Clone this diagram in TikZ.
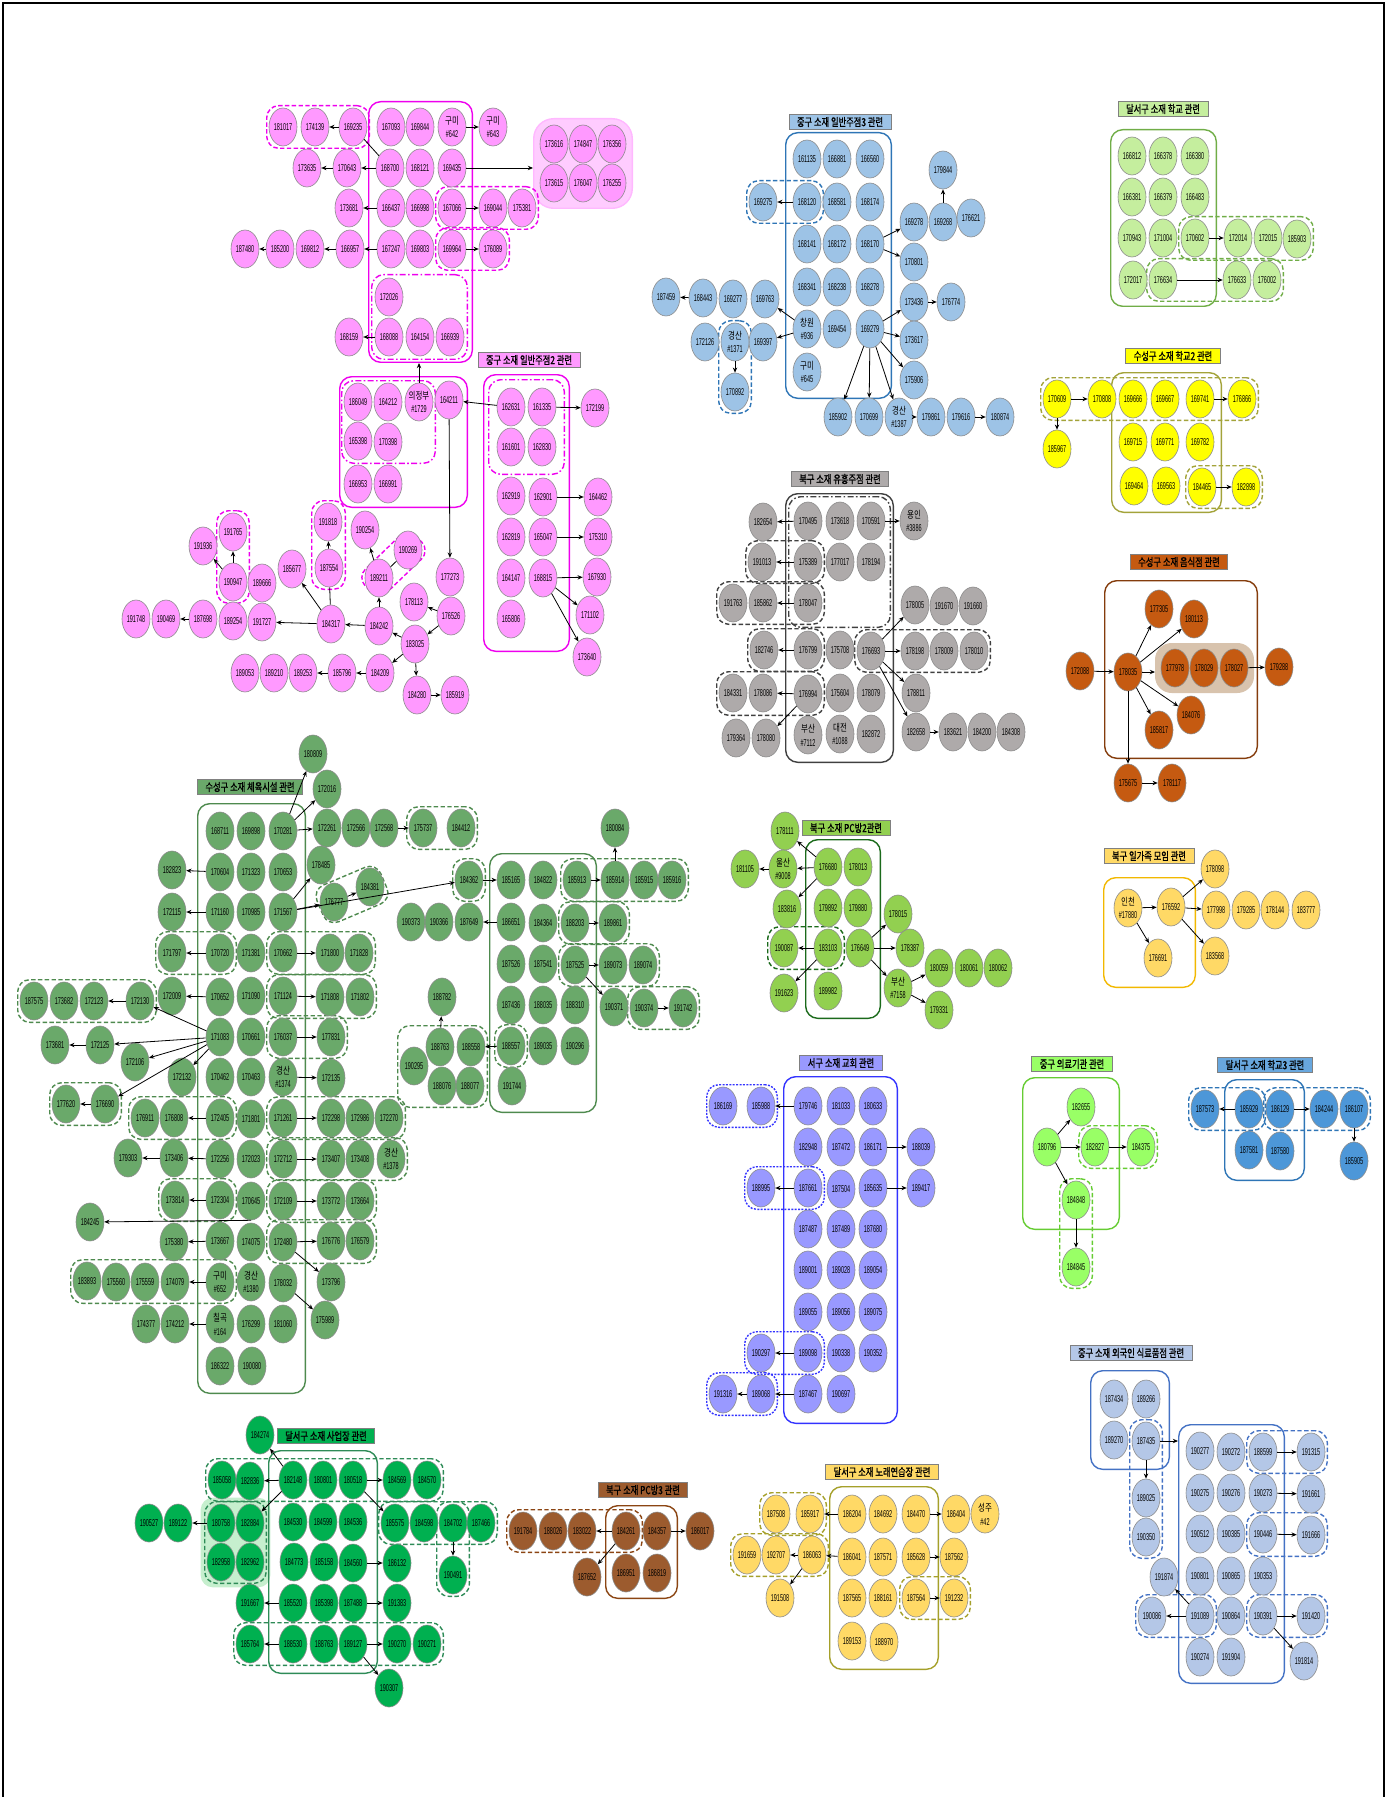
\documentclass[tikz,border=0pt]{standalone}
\usepackage{fontspec}
\usepackage{tikz}
\usetikzlibrary{shapes.geometric,arrows.meta,fit,backgrounds}
\newfontfamily\numf[FakeStretch=0.55]{Liberation Sans}
\newfontfamily\krf[FakeStretch=0.75]{Noto Sans CJK KR}
\newfontfamily\krb[FakeStretch=0.75,FakeBold=1]{Noto Sans CJK KR}
\newcommand{\nf}{\numf\fontsize{5}{5.5}\selectfont}
\newcommand{\kn}[2]{\makebox[0pt]{\shortstack{{\krf #1}\\\##2}}}
\definecolor{pinkF}{HTML}{FF99FF}\definecolor{pinkL}{HTML}{EE00EE}\definecolor{pinkS}{HTML}{FFCCFF}
\definecolor{blueF}{HTML}{9DC3E6}\definecolor{blueL}{HTML}{2E75B6}
\definecolor{lgF}{HTML}{C5EE9E}\definecolor{lgL}{HTML}{70AD47}
\definecolor{yF}{HTML}{FFFF00}\definecolor{yL}{HTML}{A3A33A}
\definecolor{grayF}{HTML}{AEAAAA}\definecolor{grayL}{HTML}{404040}
\definecolor{orF}{HTML}{C55A11}\definecolor{orL}{HTML}{843C0C}\definecolor{orS}{HTML}{D8C3AD}
\definecolor{dgF}{HTML}{6AA96A}\definecolor{dgL}{HTML}{4E8A4E}
\definecolor{pcF}{HTML}{92D050}\definecolor{pcL}{HTML}{1B6A1B}
\definecolor{famF}{HTML}{FFD966}\definecolor{famL}{HTML}{F2B800}
\definecolor{vF}{HTML}{9999FF}\definecolor{vL}{HTML}{3333FF}
\definecolor{medF}{HTML}{99FF66}\definecolor{medL}{HTML}{66CC33}
\definecolor{s3F}{HTML}{4D97D8}\definecolor{s3L}{HTML}{2E75B6}
\definecolor{eF}{HTML}{00B050}\definecolor{eL}{HTML}{2E8B57}\definecolor{eS}{HTML}{C6EFCE}
\definecolor{brF}{HTML}{9C5B2E}\definecolor{brL}{HTML}{8B4513}
\definecolor{kF}{HTML}{FFD966}\definecolor{kL}{HTML}{A5A02A}
\definecolor{wF}{HTML}{B4C7E7}\definecolor{wL}{HTML}{4472C4}

\begin{document}
\begin{tikzpicture}[x=0.5pt,y=-0.5pt,>={Stealth[length=2.6pt,width=2.2pt]},
  cn/.style={ellipse,draw=black!45,line width=0.3pt,minimum width=14pt,minimum height=19pt,inner sep=0pt,font=\nf},
  pn/.style={cn,fill=pinkF}, bn/.style={cn,fill=blueF}, ln/.style={cn,fill=lgF},
  yn/.style={cn,fill=yF}, gn/.style={cn,fill=grayF}, on/.style={cn,fill=orF},
  dn/.style={cn,fill=dgF}, cpn/.style={cn,fill=pcF}, fn/.style={cn,fill=famF},
  vn/.style={cn,fill=vF}, mn/.style={cn,fill=medF}, sn/.style={cn,fill=s3F},
  en/.style={cn,fill=eF}, rn/.style={cn,fill=brF}, kn/.style={cn,fill=kF}, wn/.style={cn,fill=wF},
  grpbox/.style={draw,rounded corners=6pt,line width=0.7pt},
  dbox/.style={draw,rounded corners=6pt,line width=0.7pt,dash pattern=on 2.2pt off 1.2pt},
  ddbox/.style={draw,rounded corners=6pt,line width=0.7pt,dash pattern=on 3pt off 1.2pt on 0.8pt off 1.2pt},
  dotbox/.style={draw,rounded corners=6pt,line width=0.7pt,dash pattern=on 1pt off 0.7pt},
  tag/.style={draw=black!50,line width=0.4pt,inner xsep=4pt,inner ysep=1.2pt,font=\krb\fontsize{5.5}{6}\selectfont},
  link/.style={->,line width=0.4pt}, plain/.style={line width=0.4pt}]
\useasboundingbox (0,0) rectangle (1387,1797);
\draw[line width=0.8pt] (3,1797) -- (3,3) -- (1384,3) -- (1384,1797);

% 중구 일반주점2 (pink)
\foreach \n/\x/\y in {181017/283/127,174139/315/127,169235/353/127,167093/391/127,169844/420/127,
  173635/307/168,170643/347/168,168700/390/168,168121/420/168,169435/452/168,
  173681/349/208,166437/391/208,166998/420/208,167066/452/208,169044/493/208,175381/522/208,
  187480/245/249,185200/280/249,169812/310/249,166957/350/249,167247/391/249,169803/420/249,169964/452/249,176089/493/249,
  172026/389/297,168159/349/337,168088/389/337,164154/420/337,166939/450/337,
  173616/554/144,174847/583/144,176356/612/144,173615/554/183,176047/583/183,176255/612/183,
  186049/358/402,164212/388/402,164211/449/400,165398/358/441,170398/388/442,166953/358/484,166991/388/484,
  162631/511/407,161335/542/407,172199/595/408,161601/511/447,162830/542/447,
  162919/511/496,162901/543/497,164462/598/497,162819/511/537,165047/543/537,175310/598/537,
  164147/511/578,168815/543/578,167930/597/577,171102/590/615,165806/511/619,173640/587/657,
  177273/450/577,191818/328/522,187554/329/568,190254/365/530,190269/408/550,189211/379/578,
  185677/292/569,191765/233/532,191936/203/546,190947/233/582,189666/262/583,
  191748/136/619,190469/166/619,187698/203/619,189254/233/621,191727/262/622,
  184317/331/624,184242/379/626,178113/414/602,176526/451/616,183025/415/644,
  184209/380/673,185796/342/673,189253/303/673,189210/274/673,189053/245/673,184280/417/695,185919/455/695}
  \node[pn] (p\n) at (\x,\y) {\n};
\node[pn] (pGumi642) at (452,127) {\kn{구미}{642}};
\node[pn] (pGumi643) at (493,127) {\kn{구미}{643}};
\node[pn] (pUjb) at (419,402) {\kn{의정부}{1729}};
\node[tag,fill=pinkF] (pTag) at (529,360) {중구 소재 일반주점2 관련};

% 중구 일반주점3 (blue)
\foreach \n/\x/\y in {161135/807/159,166881/837/159,166560/870/159,169275/763/202,168120/807/202,168581/837/202,168174/870/202,
  179844/943/170,169278/914/222,169268/943/222,176621/971/218,168141/807/244,168172/837/244,168170/870/244,170801/914/262,
  168341/807/287,168238/837/287,168278/870/287,173436/914/302,176774/951/302,
  187459/666/297,168443/703/298,169277/733/299,169763/765/299,169454/837/329,169279/870/329,173617/914/340,
  172126/705/342,169397/763/342,170892/735/392,175906/914/380,
  185902/838/417,170699/869/417,179861/931/417,179616/961/417,180874/1000/417}
  \node[bn] (b\n) at (\x,\y) {\n};
\node[bn] (bCw936) at (807,329) {\kn{창원}{936}};
\node[bn] (bGs1371) at (735,342) {\kn{경산}{1371}};
\node[bn] (bGm645) at (807,372) {\kn{구미}{645}};
\node[bn] (bGs1387) at (899,417) {\kn{경산}{1387}};
\node[tag,fill=blueF] (bTag) at (840,122) {중구 소재 일반주점3 관련};

% 달서구 학교 (light green)
\foreach \n/\x/\y in {166812/1132/156,166378/1163/156,166380/1195/156,166381/1132/197,166379/1163/197,166483/1195/197,
  170943/1132/238,171004/1163/238,170602/1195/238,172014/1238/238,172015/1268/238,185903/1297/239,
  172017/1133/280,176634/1163/280,176633/1237/280,176002/1267/280}
  \node[ln] (l\n) at (\x,\y) {\n};
\node[tag,fill=lgF] (lTag) at (1163,109) {달서구 소재 학교 관련};

% 수성구 학교2 (yellow)
\foreach \n/\x/\y in {170609/1057/399,170808/1102/399,169666/1133/399,169667/1165/399,169741/1200/399,176866/1242/399,
  185967/1057/449,169715/1133/442,169771/1165/442,169782/1200/442,
  169464/1134/486,169563/1166/486,184465/1202/487,182898/1246/487}
  \node[yn] (y\n) at (\x,\y) {\n};
\node[tag,fill=yF] (yTag) at (1173,356) {수성구 소재 학교2 관련};

% 북구 유흥주점 (gray)
\foreach \n/\x/\y in {182654/763/522,170495/808/521,173618/840/521,170591/871/521,
  191013/762/562,175389/808/562,177017/840/562,178194/871/562,
  191763/733/603,185862/763/603,178047/808/603,178005/915/605,191670/944/606,191660/973/606,
  182746/764/650,176799/808/650,175708/840/650,176693/871/651,178198/915/651,178009/944/651,178010/974/651,
  184331/733/693,178086/763/693,176994/808/694,175604/840/693,178079/871/693,178811/916/693,
  179364/736/738,178080/766/738,182872/871/734,182658/916/732,183621/953/732,184200/982/732,184308/1011/732}
  \node[gn] (g\n) at (\x,\y) {\n};
\node[gn] (gYi3886) at (914,521) {\kn{용인}{3886}};
\node[gn] (gBs7112) at (808,735) {\kn{부산}{7112}};
\node[gn] (gDj1088) at (840,734) {\kn{대전}{1088}};
\node[tag,fill=grayF] (gTag) at (840,479) {북구 소재 유흥주점 관련};

% 수성구 음식점 (orange)
\foreach \n/\x/\y in {177305/1159/609,180113/1194/619,172088/1080/671,178035/1128/672,177978/1175/668,178029/1204/668,
  178027/1234/668,179288/1279/667,184076/1191/715,185817/1159/730,175675/1128/783,178117/1172/783}
  \node[on] (o\n) at (\x,\y) {\n};
\node[tag,fill=orF] (oTag) at (1179,562) {수성구 소재 음식점 관련};

% 수성구 체육시설 (dark green)
\foreach \n/\x/\y in {180809/313/754,172016/327/789,
  168711/220/831,169898/251/831,170281/283/831,172261/327/828,172566/356/828,172568/384/828,175737/423/828,184412/461/828,180084/615/828,
  182823/172/870,170604/220/872,171323/251/872,170653/283/872,178485/321/865,184381/370/887,176777/334/902,
  172115/172/912,171160/220/912,170985/251/912,171567/283/912,
  184362/469/880,185165/511/880,184822/543/880,185913/577/880,185914/615/880,185915/644/880,185916/672/880,
  190373/411/922,190366/439/922,187649/469/922,186651/511/922,184364/543/923,188203/575/923,189861/613/923,
  171797/172/953,170720/220/953,171381/251/953,170662/283/953,171800/330/953,171828/359/953,
  187526/511/964,187541/543/964,187525/575/965,189073/613/965,189074/643/965,
  187575/34/1001,173682/64/1001,172123/94/1001,172130/140/1001,
  172009/172/996,170652/220/997,171090/251/996,171124/283/996,171808/330/997,171802/360/997,
  187436/511/1005,188035/543/1005,188310/575/1005,190371/614/1007,190374/644/1008,191742/683/1008,188782/442/997,
  173681/55/1045,172125/100/1045,171083/220/1037,170661/251/1037,176037/283/1037,177831/331/1037,
  172106/135/1062,188763/440/1047,188558/471/1047,188557/511/1046,189035/543/1046,190296/575/1046,
  190295/414/1066,172132/182/1077,170462/220/1077,170463/251/1077,172135/331/1078,
  188076/442/1086,188077/470/1086,191744/512/1086,
  177620/66/1104,176690/105/1104,176911/145/1118,176808/174/1118,172405/220/1118,171801/251/1119,171261/283/1118,
  172298/331/1118,172986/360/1118,172270/389/1118,
  179303/128/1158,173406/174/1158,172256/220/1159,172023/251/1159,172712/283/1159,173407/331/1159,173408/360/1159,
  173814/175/1200,172304/220/1200,170645/251/1201,172109/283/1201,173772/331/1201,173664/360/1201,
  184245/90/1222,175380/174/1242,173667/220/1241,174075/251/1242,172480/283/1242,176776/331/1241,176579/360/1241,
  183893/87/1281,175560/116/1282,175559/145/1282,174079/175/1282,178032/283/1283,173796/331/1282,
  175989/325/1320,174377/146/1324,174212/175/1324,176299/251/1324,181060/283/1324,186322/220/1366,190080/252/1366}
  \node[dn] (d\n) at (\x,\y) {\n};
\node[dn] (dGs1374) at (283,1077) {\kn{경산}{1374}};
\node[dn] (dGs1378) at (391,1159) {\kn{경산}{1378}};
\node[dn] (dGm652) at (220,1282) {\kn{구미}{652}};
\node[dn] (dGs1380) at (251,1282) {\kn{경산}{1380}};
\node[dn] (dCg164) at (220,1324) {\kn{칠곡}{164}};
\node[tag,fill=dgF] (dTag) at (250,787) {수성구 소재 체육시설 관련};

% 북구 PC방2
\foreach \n/\x/\y in {178111/785/831,181105/745/869,176680/828/867,178013/858/867,183816/787/909,179892/828/908,179880/858/908,
  178015/898/914,190087/784/948,183103/828/948,176649/860/948,178387/910/948,191623/784/993,189982/828/991,
  180059/939/968,180061/969/968,180062/998/968,179331/939/1010}
  \node[cpn] (c\n) at (\x,\y) {\n};
\node[cpn] (cUs9008) at (783,869) {\kn{울산}{9008}};
\node[cpn] (cBs7158) at (898,988) {\kn{부산}{7158}};
\node[tag,fill=pcF] (cTag) at (846,828) {북구 소재 PC방2관련};

% 북구 일가족
\foreach \n/\x/\y in {176592/1171/907,178098/1215/869,177998/1216/910,179285/1246/910,178144/1275/910,183777/1306/910,
  176691/1158/958,183568/1215/956}
  \node[fn] (f\n) at (\x,\y) {\n};
\node[fn] (fIc17880) at (1128,908) {\kn{인천}{17880}};
\node[tag,fill=famF] (fTag) at (1149,856) {북구 일가족 모임 관련};

% 서구 교회 (purple)
\foreach \n/\x/\y in {186169/723/1106,185988/761/1106,179746/808/1106,181033/841/1106,180633/873/1106,
  182948/808/1147,187472/841/1147,186171/873/1147,188039/921/1147,
  188995/761/1188,187661/808/1188,187504/841/1189,185635/873/1188,189417/921/1188,
  187487/808/1229,187489/841/1229,187680/873/1229,189001/808/1270,189028/841/1270,189054/873/1270,
  189055/808/1312,189056/841/1312,189075/873/1312,190297/761/1353,189098/808/1353,190338/841/1353,190352/873/1353,
  191316/723/1394,189068/761/1394,187467/808/1394,190697/841/1394}
  \node[vn] (v\n) at (\x,\y) {\n};
\node[tag,fill=vF] (vTag) at (841,1063) {서구 소재 교회 관련};

% 중구 의료기관
\foreach \n/\x/\y in {182655/1081/1107,180796/1047/1147,182827/1095/1147,184375/1141/1147,184848/1076/1200,184845/1076/1267}
  \node[mn] (m\n) at (\x,\y) {\n};
\node[tag,fill=medF] (mTag) at (1072,1064) {중구 의료기관 관련};

% 달서구 학교3
\foreach \n/\x/\y in {187573/1205/1109,185929/1249/1109,186129/1280/1109,184244/1324/1109,186107/1354/1109,
  187581/1249/1150,187580/1280/1151,185905/1354/1161}
  \node[sn] (s\n) at (\x,\y) {\n};
\node[tag,fill=s3F!85!white] (sTag) at (1265,1065) {달서구 소재 학교3 관련};

% 달서구 사업장
\foreach \n/\x/\y in {184274/260/1435,185058/222/1480,182836/250/1481,182148/293/1480,180801/323/1480,180518/353/1480,
  184569/397/1480,184570/427/1480,190527/149/1523,189122/178/1523,180758/221/1523,182884/250/1523,184530/293/1522,
  184599/323/1522,184536/353/1522,185575/395/1523,184598/424/1523,184702/453/1523,187466/481/1523,
  182958/221/1562,182962/250/1562,184773/294/1562,185158/324/1562,184560/353/1563,186132/397/1563,190491/453/1575,
  191667/250/1603,185520/293/1603,185398/324/1603,187488/353/1603,191383/397/1603,
  185764/250/1644,188530/293/1644,188763/324/1644,189127/353/1644,190270/397/1644,190271/427/1644,190307/389/1688}
  \node[en] (e\n) at (\x,\y) {\n};
\node[tag,fill=eF] (eTag) at (326,1436) {달서구 소재 사업장 관련};

% 북구 PC방3 (brown)
\foreach \n/\x/\y in {191784/523/1531,188026/553/1531,183022/582/1531,184261/626/1531,184357/657/1531,186017/700/1531,
  187652/587/1577,186951/626/1573,186819/657/1573}
  \node[rn] (r\n) at (\x,\y) {\n};
\node[tag,fill=brF] (rTag) at (643,1490) {북구 소재 PC방3 관련};

% 달서구 노래연습장
\foreach \n/\x/\y in {187508/776/1514,185917/810/1514,186204/852/1514,184692/883/1514,184470/916/1514,186404/956/1514,
  191659/747/1555,192707/776/1555,186063/812/1555,186041/852/1557,187571/883/1557,185628/916/1557,187562/954/1557,
  191508/780/1598,187565/852/1598,188161/883/1598,187564/916/1598,191232/954/1598,189153/852/1641,188970/884/1642}
  \node[kn] (k\n) at (\x,\y) {\n};
\node[kn] (kSj42) at (985,1514) {\kn{성주}{42}};
\node[tag,fill=kF] (kTag) at (882,1472) {달서구 소재 노래연습장 관련};

% 중구 외국인 식료품점
\foreach \n/\x/\y in {187434/1114/1399,189266/1146/1399,189270/1114/1440,187435/1146/1441,189025/1146/1498,190350/1146/1537,
  190277/1200/1451,190272/1231/1452,188599/1263/1452,191315/1311/1452,
  190275/1200/1493,190276/1231/1493,190273/1263/1493,191661/1311/1494,
  190512/1200/1534,190385/1231/1534,190446/1263/1534,191666/1311/1535,
  191874/1164/1577,190801/1200/1576,190865/1231/1576,190353/1263/1576,
  190086/1152/1616,191089/1200/1616,190864/1231/1616,190391/1263/1616,191420/1311/1616,
  190274/1200/1657,191904/1231/1657,191814/1304/1661}
  \node[wn] (w\n) at (\x,\y) {\n};
\node[tag,fill=wF] (wTag) at (1131,1353) {중구 소재 외국인 식료품점 관련};

% group outlines
\begin{scope}[on background layer]
  \node[grpbox,draw=pinkS!60!pinkF,fill=pinkS,rounded corners=10pt,fit=(p173616)(p176255),inner sep=3pt] (pkgrp) {};
  \node[grpbox,draw=orS,fill=orS,rounded corners=8pt,fit=(o177978)(o178027),inner sep=2.5pt] (oshade) {};
  \node[grpbox,draw=none,fill=eS,fit=(e180758)(e182962),inner sep=3pt] (eshade) {};
  \node[grpbox,draw=pinkL,fit=(p167093)(pGumi642)(p168088),inner sep=3pt] (pkbig) {};
  \node[dbox,draw=pinkL,fit=(p181017)(p169235),inner sep=1pt] {};
  \node[dbox,draw=pinkL,fit=(p167066)(p175381),inner sep=1pt] {};
  \node[dbox,draw=pinkL,fit=(p169964)(p176089),inner sep=1pt] {};
  \node[ddbox,draw=pinkL,fit=(p172026)(p166939)(p168088),inner sep=1.5pt] {};
  \node[grpbox,draw=pinkL,fit=(p186049)(p164211)(p166953),inner sep=2pt] {};
  \node[ddbox,draw=pinkL,fit=(p186049)(pUjb)(p170398),inner sep=1pt] {};
  \node[grpbox,draw=pinkL,fit=(p162631)(p165806)(p162830),inner sep=6.5pt] {};
  \node[ddbox,draw=pinkL,fit=(p162631)(p162830),inner sep=4pt] {};
  \node[dbox,draw=pinkL,fit=(p191818)(p187554),inner sep=1pt] {};
  \node[dbox,draw=pinkL,fit=(p191765)(p190947),inner sep=1pt] {};
  \node[dbox,draw=pinkL,rotate fit=44,fit=(p189211)(p190269),inner sep=1pt] {};
  \node[grpbox,draw=blueL,fit=(b161135)(b166560)(bGm645)(b169279),inner sep=3.5pt] {};
  \node[dbox,draw=blueL,fit=(b169275)(b168120),inner sep=1pt] {};
  \node[dbox,draw=blueL,fit=(bGs1371)(b170892),inner sep=1pt] {};
  \node[grpbox,draw=lgL,fit=(l166812)(l166380)(l172017),inner sep=3.5pt] {};
  \node[dbox,draw=lgL,fit=(l170602)(l185903),inner sep=1pt] {};
  \node[dbox,draw=lgL,fit=(l176634)(l176002),inner sep=1pt] {};
  \node[grpbox,draw=yL,fit=(y169666)(y169741)(y169464),inner sep=3.5pt] {};
  \node[dbox,draw=yL,fit=(y170609)(y176866),inner sep=1pt] {};
  \node[dbox,draw=yL,fit=(y184465)(y182898),inner sep=1pt] {};
  \node[grpbox,draw=grayL,fit=(g170495)(g170591)(g182872)(gBs7112),inner sep=4pt] {};
  \node[ddbox,draw=grayL,fit=(g170495)(g178194)(g178047),inner sep=2.5pt] {};
  \node[dbox,draw=grayL,fit=(g191013)(g175389),inner sep=1pt] {};
  \node[dbox,draw=grayL,fit=(g191763)(g178047),inner sep=1pt] {};
  \node[dbox,draw=grayL,fit=(g182746)(g176799),inner sep=1pt] {};
  \node[dbox,draw=grayL,fit=(g176693)(g178010),inner sep=1pt] {};
  \node[dbox,draw=grayL,fit=(g184331)(g176994),inner sep=1pt] {};
  \node[grpbox,draw=orL,fit=(o178035)(o177305)(o178027)(o185817),inner sep=4.5pt] {};
  \node[grpbox,draw=dgL,fit=(d168711)(d170281)(d186322),inner sep=4pt] {};
  \node[grpbox,draw=dgL,fit=(d185165)(d188310)(d191744),inner sep=3.5pt] {};
  \node[dbox,draw=dgL,fit=(d175737)(d184412),inner sep=1pt] {};
  \node[dbox,draw=dgL,rotate fit=23,fit=(d176777)(d184381),inner sep=1pt] {};
  \node[dbox,draw=dgL,fit=(d184362),inner sep=1pt] {};
  \node[dbox,draw=dgL,fit=(d185913)(d185916),inner sep=1pt] {};
  \node[dbox,draw=dgL,fit=(d188203)(d189861),inner sep=1pt] {};
  \node[dbox,draw=dgL,fit=(d187525)(d189074),inner sep=1pt] {};
  \node[dbox,draw=dgL,fit=(d190374)(d191742),inner sep=1pt] {};
  \node[dbox,draw=dgL,fit=(d171797)(d170720),inner sep=1pt] {};
  \node[dbox,draw=dgL,fit=(d170662)(d171828),inner sep=1pt] {};
  \node[dbox,draw=dgL,fit=(d187575)(d172130),inner sep=1pt] {};
  \node[dbox,draw=dgL,fit=(d171124)(d171802),inner sep=1pt] {};
  \node[dbox,draw=dgL,fit=(d176037)(d177831),inner sep=1pt] {};
  \node[dbox,draw=dgL,fit=(d190295)(d188763)(d188558)(d188076)(d188077),inner sep=1pt] {};
  \node[dbox,draw=dgL,fit=(d188557),inner sep=1pt] {};
  \node[dbox,draw=dgL,fit=(d177620)(d176690),inner sep=1pt] {};
  \node[dbox,draw=dgL,fit=(d176911)(d172405),inner sep=1pt] {};
  \node[dbox,draw=dgL,fit=(d171261)(d172270),inner sep=1pt] {};
  \node[dbox,draw=dgL,fit=(d172712)(dGs1378),inner sep=1pt] {};
  \node[dbox,draw=dgL,fit=(d173814)(d172304),inner sep=1pt] {};
  \node[dbox,draw=dgL,fit=(d172109)(d173664),inner sep=1pt] {};
  \node[dbox,draw=dgL,fit=(d172480)(d176579),inner sep=1pt] {};
  \node[dbox,draw=dgL,fit=(d183893)(dGm652),inner sep=1pt] {};
  \node[grpbox,draw=pcL,fit=(c176680)(c178013)(c189982),inner sep=4pt] {};
  \node[dbox,draw=pcL,fit=(c190087)(c183103),inner sep=1pt] {};
  \node[grpbox,draw=famL,fit=(fIc17880)(f176592)(f176691),inner sep=5pt] {};
  \node[grpbox,draw=vL,fit=(v179746)(v180633)(v187467),inner sep=5pt] {};
  \node[dotbox,draw=vL,fit=(v186169)(v185988),inner sep=1pt] {};
  \node[dotbox,draw=vL,fit=(v188995)(v187661),inner sep=1pt] {};
  \node[dotbox,draw=vL,fit=(v190297)(v189098),inner sep=1pt] {};
  \node[dotbox,draw=vL,fit=(v191316)(v189068),inner sep=1pt] {};
  \node[grpbox,draw=medL,fit=(m182655)(m180796)(m182827)(m184848),inner sep=5pt] {};
  \node[dbox,draw=medL,fit=(m182827)(m184375),inner sep=1pt] {};
  \node[dbox,draw=medL,fit=(m184848)(m184845),inner sep=1pt] {};
  \node[grpbox,draw=s3L,fit=(s185929)(s186129)(s187580),inner sep=5pt] {};
  \node[dbox,draw=s3L,fit=(s187573)(s185929),inner sep=1pt] {};
  \node[dbox,draw=s3L,fit=(s186129)(s186107),inner sep=1pt] {};
  \node[grpbox,draw=eL,fit=(e182148)(e180518)(e188530)(e189127),inner sep=5pt] {};
  \node[dbox,draw=eL,fit=(e180758)(e182962),inner sep=1pt] {};
  \node[dbox,draw=eL,fit=(e185058)(e184570),inner sep=1pt] {};
  \node[dbox,draw=eL,fit=(e185575)(e187466),inner sep=1pt] {};
  \node[dbox,draw=eL,fit=(e184702)(e190491),inner sep=1pt] {};
  \node[dbox,draw=eL,fit=(e185764)(e190271),inner sep=1pt] {};
  \node[grpbox,draw=brL,fit=(r184261)(r184357)(r186819),inner sep=3pt] {};
  \node[dbox,draw=brL,fit=(r191784)(r184261),inner sep=1pt] {};
  \node[grpbox,draw=kL,fit=(k186204)(k184470)(k188970),inner sep=4pt] {};
  \node[dbox,draw=kL,fit=(k187508)(k185917),inner sep=1pt] {};
  \node[dbox,draw=kL,fit=(k191659)(k186063),inner sep=1pt] {};
  \node[dbox,draw=kL,fit=(k187564)(k191232),inner sep=1pt] {};
  \node[grpbox,draw=wL,fit=(w187434)(w189266)(w187435),inner sep=4.5pt] {};
  \node[grpbox,draw=wL,fit=(w190277)(w188599)(w190274)(w190391),inner sep=3.5pt] (w2) {};
  \node[dbox,draw=wL,fit=(w187435)(w190350),inner sep=1pt] {};
  \node[dbox,draw=wL,fit=(w188599)(w191315),inner sep=1pt] {};
  \node[dbox,draw=wL,fit=(w190446)(w191666),inner sep=1pt] {};
  \node[dbox,draw=wL,fit=(w190086)(w191089),inner sep=1pt] {};
  \node[dbox,draw=wL,fit=(w190391)(w191420),inner sep=1pt] {};
\end{scope}

% connectors
\foreach \a/\b in {169235/174139,Gumi642/Gumi643,168700/170643,170643/173635,166437/173681,167066/169044,
  167247/166957,166957/169812,185200/187480,169964/176089,168088/168159,162631/164211,161335/172199,
  162901/164462,165047/175310,168815/167930,168815/171102,168815/173640,164211/177273,190947/191765,
  190947/191936,187698/190469,184317/191727,184317/185677,187554/191818,184242/184317,184242/189211,
  189211/190254,183025/184242,176526/178113,176526/183025,183025/184209,184209/185796,185796/189253,
  183025/184280,184280/185919}
  \draw[link] (p\a) -- (p\b);
\draw[plain] (p168700) -- (p169235);
\draw[plain] (p184317) -- (p187554);
\draw[plain] (p189211) -- (p190269);
\draw[link] (p169435) -- (p169435 -| pkgrp.west);
\draw[link] (pUjb) -- (pUjb |- pkbig.south);

\foreach \a/\b in {168120/169275,169268/179844,168170/169278,168170/170801,168443/187459,Cw936/169763,
  Cw936/169397,Gs1371/170892,169279/173436,169279/173617,169279/175906,169279/185902,169279/170699,
  169279/Gs1387,173436/176774,Gs1387/179861,179616/180874}
  \draw[link] (b\a) -- (b\b);
\foreach \a/\b in {170602/172014,176634/176633} \draw[link] (l\a) -- (l\b);
\foreach \a/\b in {170609/170808,170609/185967,169741/176866,184465/182898} \draw[link] (y\a) -- (y\b);
\foreach \a/\b in {170495/182654,170591/Yi3886,175389/191013,178047/185862,176799/182746,176693/178198,
  176693/178005,176693/178811,176693/182658,176994/178086,176994/178080,182658/183621}
  \draw[link] (g\a) -- (g\b);
\foreach \a/\b in {172088/178035,178035/177305,178035/180113,178027/179288,178035/184076,178035/185817,
  178035/175675,175675/178117}
  \draw[link] (o\a) -- (o\b);
\draw[link] (o178035) -- (o178035 -| oshade.west);
\foreach \a/\b in {170281/180809,170281/172016,170281/172261,172568/175737,170604/182823,171567/178485,
  171567/176777,176777/184381,171567/184362,171160/172115,184362/185165,185913/185914,185914/180084,
  186651/187649,188203/189861,187525/189073,187525/190371,190374/191742,170720/171797,170662/171800,
  172130/172123,170652/172009,171124/171808,171083/172130,171083/172125,171083/172106,171083/172132,
  171083/176690,172125/173681,176037/177831,188763/188782,188557/188558,Gs1374/172135,176690/177620,
  172405/176808,171261/172298,173406/179303,172256/173406,172712/173407,172304/173814,172109/173772,
  173667/175380,172480/176776,172480/173796,Gm652/174079,178032/175989,Cg164/174212}
  \draw[link] (d\a) -- (d\b);
\draw[link] (d170645.south) -- (d184245);
\foreach \a/\b in {176680/178111,176680/Us9008,Us9008/181105,176680/183816,183103/190087,183103/191623,
  176649/178015,176649/178387,176649/Bs7158,Bs7158/180059,Bs7158/179331}
  \draw[link] (c\a) -- (c\b);
\foreach \a/\b in {Ic17880/176592,Ic17880/176691,176592/178098,176592/177998,176592/183568}
  \draw[link] (f\a) -- (f\b);
\foreach \a/\b in {179746/185988,186171/188039,187661/188995,185635/189417,189098/190297,189068/191316,187467/189068}
  \draw[link] (v\a) -- (v\b);
\foreach \a/\b in {180796/182655,180796/182827,180796/184848,182827/184375,184848/184845}
  \draw[link] (m\a) -- (m\b);
\foreach \a/\b in {185929/187573,186129/184244,186107/185905} \draw[link] (s\a) -- (s\b);
\foreach \a/\b in {182148/184274,182148/182836,182148/182884,180518/184569,180518/185575,180758/189122,
  184702/190491,184560/186132,185520/191667,187488/191383,188530/185764,189127/190270,189127/190307}
  \draw[link] (e\a) -- (e\b);
\foreach \a/\b in {184261/183022,184357/186017,184261/187652} \draw[link] (r\a) -- (r\b);
\foreach \a/\b in {186204/185917,184470/186404,186041/186063,186063/192707,186063/191508,185628/187562,187564/191232}
  \draw[link] (k\a) -- (k\b);
\foreach \a/\b in {187435/189025,188599/191315,190273/191661,190446/191666,191089/190086,191089/191874,
  190391/191420,190391/191814}
  \draw[link] (w\a) -- (w\b);
\draw[link] (w187435) -- (w187435 -| w2.west);
\end{tikzpicture}
\end{document}
